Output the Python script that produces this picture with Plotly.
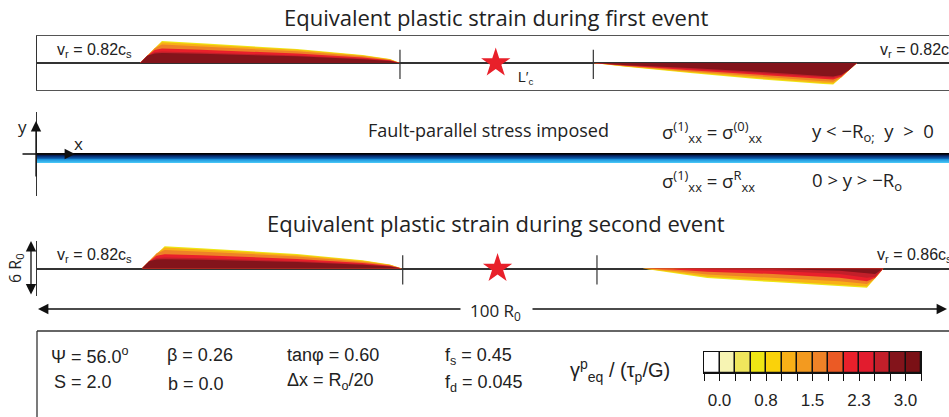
import plotly.graph_objects as go

W, H = 949, 417

# ---------------- data ----------------
# colour bar of gamma_eq^p / (tau_p/G)
cbar_edges = [-0.25, 0.0, 0.25, 0.5, 0.75, 1.0, 1.25, 1.5, 1.75, 2.0, 2.25, 2.5, 2.75, 3.0, 3.25]
cbar_colors = ["#FFFFFF", "#F7F4B3", "#F0E65C", "#EEE614", "#FAD20A", "#F8B017", "#F39A1F",
               "#EE8227", "#EB5A25", "#E9202B", "#E21C2E", "#C21F2A", "#83141B", "#7A1015"]
cbar_ticktext = ["", "0.0", "", "", "0.8", "", "", "1.5", "", "", "2.3", "", "", "3.0", ""]

# strain level of each contour band (outer -> inner)
band_levels = [0.625, 1.125, 1.625, 2.125, 2.625, 2.875]

# first event, left-going rupture (above the fault), x and contour heights in R0
zoneA_x = [-38.7, -37.9, -37.1, -36.3, -32.0, -28.8, -21.5, -14.3, -11.3, -10.2]
zoneA_h = [
    [0, 0.80, 1.63, 2.44, 2.20, 2.00, 1.56, 0.89, 0.44, 0],
    [0, 0.80, 1.63, 2.30, 2.08, 1.88, 1.46, 0.83, 0.41, 0],
    [0, 0.80, 1.60, 2.05, 1.85, 1.68, 1.30, 0.74, 0.36, 0],
    [0, 0.80, 1.45, 1.62, 1.48, 1.36, 1.05, 0.60, 0.30, 0],
    [0, 0.80, 1.20, 1.28, 1.18, 1.08, 0.84, 0.49, 0.25, 0],
    [0, 0.80, 1.05, 1.10, 1.02, 0.95, 0.74, 0.43, 0.22, 0],
]
# first event, right-going rupture (below the fault)
zoneB_x = [11.0, 14.3, 21.6, 28.9, 36.2, 37.3, 38.2, 39.0, 39.9]
zoneB_h = [
    [0, -0.38, -1.10, -1.78, -2.33, -2.40, -1.57, -0.80, 0],
    [0, -0.36, -1.04, -1.68, -2.22, -2.28, -1.57, -0.80, 0],
    [0, -0.33, -0.94, -1.52, -2.02, -2.08, -1.57, -0.80, 0],
    [0, -0.29, -0.80, -1.30, -1.80, -1.84, -1.50, -0.80, 0],
    [0, -0.25, -0.66, -1.10, -1.60, -1.64, -1.40, -0.80, 0],
    [0, -0.22, -0.56, -0.96, -1.45, -1.50, -1.30, -0.80, 0],
]
# second event, left-going rupture (above the fault)
zoneC_x = [-38.5, -37.7, -36.9, -36.0, -32.0, -28.8, -21.5, -14.3, -11.3, -10.0]
zoneC_h = [
    [0, 0.80, 1.63, 2.44, 2.22, 2.02, 1.58, 0.90, 0.45, 0],
    [0, 0.80, 1.63, 2.30, 2.10, 1.90, 1.48, 0.84, 0.42, 0],
    [0, 0.80, 1.60, 2.02, 1.86, 1.70, 1.32, 0.75, 0.37, 0],
    [0, 0.80, 1.40, 1.55, 1.45, 1.34, 1.04, 0.60, 0.30, 0],
    [0, 0.80, 1.15, 1.20, 1.12, 1.04, 0.82, 0.48, 0.24, 0],
    [0, 0.80, 0.98, 1.02, 0.96, 0.90, 0.70, 0.41, 0.21, 0],
]
# second event, right-going rupture (below the fault)
zoneD_x = [16.4, 19.7, 23.5, 30.7, 38.0, 41.0, 41.9, 42.8]
zoneD_h = [
    [0, -0.45, -1.03, -1.48, -1.90, -2.10, -1.05, 0],
    [0, -0.38, -0.90, -1.30, -1.72, -1.95, -1.05, 0],
    [0, -0.25, -0.65, -1.00, -1.40, -1.70, -1.05, 0],
    [0, -0.10, -0.35, -0.60, -1.00, -1.40, -1.00, 0],
    [0, 0.00, -0.10, -0.25, -0.60, -1.00, -0.90, 0],
    [0, 0.00, 0.00, -0.05, -0.25, -0.55, -0.60, 0],
]

# hypocentre and edges of the nucleation zone (x in R0)
hypo_x = [0.3, 0.5]
nucl_edges_1 = [-10.2, 11.0]
nucl_edges_2 = [-9.9, 11.4]

# imposed residual stress band (0 > y > -R0)
resid_depth = [-0.05, -0.15, -0.25, -0.35, -0.45, -0.55, -0.65, -0.75, -0.85, -0.95]
resid_level = [0.05, 0.15, 0.27, 0.38, 0.5, 0.62, 0.72, 0.82, 0.9, 1.0]


def level_color(v):
    for i in range(len(cbar_colors)):
        if cbar_edges[i] <= v < cbar_edges[i + 1]:
            return cbar_colors[i]
    return cbar_colors[-1]


def px(x):
    return x / W


def py(y):
    return 1 - y / H


fig = go.Figure()


def add_zone(zx, zh, xa, ya):
    for lev, h in zip(band_levels, zh):
        fig.add_trace(go.Scatter(x=zx, y=h, mode="lines", fill="toself",
                                 fillcolor=level_color(lev), line=dict(width=0),
                                 xaxis=xa, yaxis=ya, hoverinfo="skip", showlegend=False))


add_zone(zoneA_x, zoneA_h, "x", "y")
add_zone(zoneB_x, zoneB_h, "x", "y")
add_zone(zoneC_x, zoneC_h, "x3", "y3")
add_zone(zoneD_x, zoneD_h, "x3", "y3")

for edges, xa, ya, hx in [(nucl_edges_1, "x", "y", hypo_x[0]), (nucl_edges_2, "x3", "y3", hypo_x[1])]:
    fig.add_trace(go.Scatter(x=edges, y=[-0.15] * len(edges), mode="markers",
                             marker=dict(symbol="line-ns-open", size=21, color="#333",
                                         line=dict(color="#333", width=1.2)),
                             xaxis=xa, yaxis=ya, hoverinfo="skip", showlegend=False))
    fig.add_trace(go.Scatter(x=[hx], y=[0], mode="markers",
                             marker=dict(symbol="star", size=22, color="#E8202A",
                                         line=dict(width=0)),
                             xaxis=xa, yaxis=ya, hoverinfo="skip", showlegend=False))

# residual stress band
fig.add_trace(go.Heatmap(x=[-60, 60], y=resid_depth, z=[[v, v] for v in resid_level],
                         zmin=0, zmax=1,
                         colorscale=[[0, "#000000"], [0.15, "#06205a"], [0.4, "#0a4f9c"],
                                     [0.7, "#1a8fd8"], [1, "#45c3f5"]],
                         showscale=False, xaxis="x2", yaxis="y2", hoverinfo="skip"))

# colour bar cells
cb_x = [(a + b) / 2 for a, b in zip(cbar_edges[:-1], cbar_edges[1:])]
fig.add_trace(go.Bar(x=cb_x, y=[1] * len(cb_x), width=0.25,
                     marker=dict(color=cbar_colors, line=dict(color="#111", width=1.3)),
                     xaxis="x4", yaxis="y4", hoverinfo="skip", showlegend=False))

box_line = "#555"
panel_x = [px(37), 1]


def xa(domain, rng):
    return dict(domain=domain, range=rng, showline=True, mirror=True, linecolor=box_line,
                linewidth=1.2, showticklabels=False, ticks="", showgrid=False,
                zeroline=False, fixedrange=True)


def ya(domain, rng, anchor, zc="#333", zw=1.5):
    return dict(domain=domain, range=rng, showline=True, mirror=False, linecolor="#333",
                linewidth=1.2, showticklabels=False, ticks="", showgrid=False,
                zeroline=True, zerolinecolor=zc, zerolinewidth=zw, anchor=anchor,
                fixedrange=True)


TF = "Open Sans"
AF = "Liberation Sans"
ann = []


def text(t, x, y, size, font=AF, xanchor="left", **kw):
    ann.append(dict(text=t, x=px(x), y=py(y), xref="paper", yref="paper",
                    xanchor=xanchor, yanchor="middle", showarrow=False,
                    font=dict(family=font, size=size, color="#222"), **kw))


def arrow(x, y, ax, ay, side="end"):
    ann.append(dict(text="", x=px(x), y=py(y), xref="paper", yref="paper",
                    ax=ax - x, ay=ay - y, axref="pixel", ayref="pixel", showarrow=True,
                    arrowhead=2, arrowsize=1.6, arrowwidth=1.3, arrowcolor="#111",
                    arrowside=side))


text("Equivalent plastic strain during first event", 496, 17, 22, TF, "center")
text("Equivalent plastic strain during second event", 496, 223, 22, TF, "center")
text("v<sub>r</sub> = 0.82c<sub>s</sub>", 55, 50, 16)
text("v<sub>r</sub> = 0.82c<sub>s</sub>", 878, 50, 16)
text("L′<sub>c</sub>", 525, 78, 14, xanchor="center")
text("v<sub>r</sub> = 0.82c<sub>s</sub>", 55, 255, 16)
text("v<sub>r</sub> = 0.86c<sub>s</sub>", 875, 255, 16)

text("Fault-parallel stress imposed", 366, 130, 18, TF)
text("σ<sup>(1)</sup><sub>xx</sub> = σ<sup>(0)</sup><sub>xx</sub>", 660, 132, 18.5, TF)
text("y &lt; −R<sub>o;</sub>  y  &gt;  0", 810, 132, 18.5, TF)
text("σ<sup>(1)</sup><sub>xx</sub> = σ<sup>R</sup><sub>xx</sub>", 660, 181, 18.5, TF)
text("0 &gt; y &gt; −R<sub>o</sub>", 810, 181, 18.5, TF)
text("y", 22, 126, 17, TF, "center")
text("x", 78, 143, 17, TF, "center")
arrow(36, 121, 36, 178)
arrow(75, 154, 21, 154)

text("6 R<sub>0</sub>", 15, 268, 16, TF, "center", textangle=-90)
arrow(31, 241, 31, 296, "end+start")
text("100 R<sub>0</sub>", 496, 311, 17, TF, "center")
arrow(38, 309, 462, 309)
arrow(947, 309, 531, 309)

text("Ψ = 56.0<sup>o</sup>", 49, 355, 18)
text("S = 2.0", 52, 382, 18)
text("β = 0.26", 165, 355, 18)
text("b = 0.0", 166, 384, 18)
text("tanφ = 0.60", 285, 355, 18)
text("Δx = R<sub>o</sub>/20", 285, 381, 18)
text("f<sub>s</sub> = 0.45", 443, 356, 18)
text("f<sub>d</sub> = 0.045", 443, 383, 18)
text("γ<sup>p</sup><sub>eq</sub> / (τ<sub>p</sub>/G)", 568, 370, 20)

shapes = [
    dict(type="line", xref="paper", yref="paper", x0=px(37), x1=1, y0=py(331), y1=py(331),
         line=dict(color="#333", width=1.3)),
    dict(type="line", xref="paper", yref="paper", x0=px(37), x1=px(37), y0=py(331), y1=0,
         line=dict(color="#333", width=1.3)),
]

fig.update_layout(
    width=W, height=H, margin=dict(l=0, r=0, t=0, b=0),
    paper_bgcolor="white", plot_bgcolor="rgba(0,0,0,0)", showlegend=False,
    xaxis=xa(panel_x, [-50, 50]),
    yaxis=ya([py(90), py(36)], [-3, 3], "x"),
    xaxis2=xa(panel_x, [-50, 50]),
    yaxis2=ya([py(196), py(112)], [-4.67, 4.67], "x2", "#000", 1.5),
    xaxis3=xa(panel_x, [-50, 50]),
    yaxis3=ya([py(296), py(241)], [-3, 3], "x3"),
    xaxis4=dict(domain=[px(704), px(921)], range=[cbar_edges[0], cbar_edges[-1]],
                anchor="y4", showline=True, mirror=True, linecolor="#111", linewidth=1.3,
                ticks="outside", ticklen=7, tickcolor="#111", tickwidth=1.3,
                tickvals=cbar_edges, ticktext=cbar_ticktext, ticklabelstandoff=4,
                tickfont=dict(family=AF, size=17, color="#222"),
                showgrid=False, zeroline=False, fixedrange=True),
    yaxis4=dict(domain=[py(373), py(352)], range=[0, 1], anchor="x4", showline=True,
                mirror=True, linecolor="#111", linewidth=1.3, showticklabels=False,
                ticks="", showgrid=False, zeroline=False, fixedrange=True),
    annotations=ann, shapes=shapes, bargap=0,
)

fig.write_html("out.html")
